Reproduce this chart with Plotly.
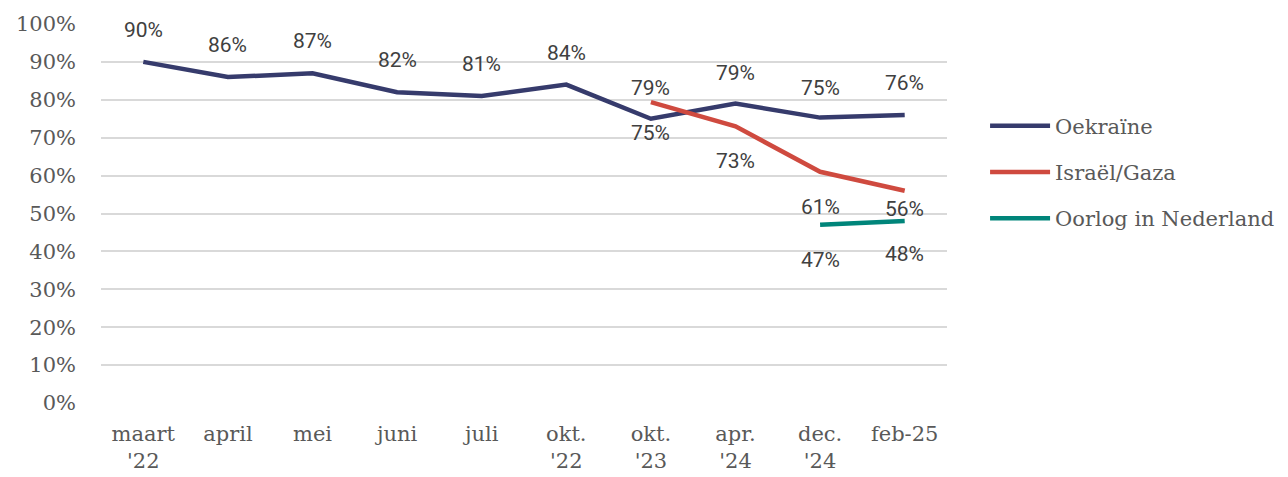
import plotly.graph_objects as go

# categories and series
months = ["maart<br>'22", "april", "mei", "juni", "juli", "okt.<br>'22",
          "okt.<br>'23", "apr.<br>'24", "dec.<br>'24", "feb-25"]
oekraine = [90, 86, 87, 82, 81, 84, 75, 79, 75.3, 76]
israel = [None, None, None, None, None, None, 79.4, 73, 61, 56]
oorlog = [None, None, None, None, None, None, None, None, 47, 48]

serif = "DejaVu Serif"
grey = "#595959"
series = [
    ("Oekraïne", oekraine, "#363b6c", [32, 32, 32, 32, 32, 32, -14, 31, 30, 32]),
    ("Israël/Gaza", israel, "#cf4a3f", [0] * 6 + [14, -35, -35, -18]),
    ("Oorlog in Nederland", oorlog, "#00857a", [0] * 8 + [-35, -33]),
]

fig = go.Figure()
annotations = []
for name, vals, color, shifts in series:
    fig.add_trace(go.Scatter(
        x=months, y=vals, name=name, mode="lines", legendgroup=name,
        line=dict(color=color, width=4.5),
    ))
    # data labels, placed above/below the points like the original
    for m, v, s in zip(months, vals, shifts):
        if v is None:
            continue
        annotations.append(dict(
            x=m, y=v, text=f"{round(v)}%", showarrow=False, yshift=s,
            font=dict(family="Roboto", size=21, color="#404040"),
        ))

# page body has an 8px margin, so margins are offset by that
fig.update_layout(
    width=1288, height=477,
    margin=dict(l=93, r=349, t=16, b=82),
    paper_bgcolor="white", plot_bgcolor="white",
    font=dict(family=serif, size=21, color=grey),
    showlegend=True,
    annotations=annotations,
    legend=dict(x=1.045, y=0.785, xanchor="left", yanchor="top",
                font=dict(family=serif, size=21, color=grey),
                tracegroupgap=16, itemwidth=60),
    xaxis=dict(type="category", range=[-0.5, len(months) - 0.5],
               showgrid=False, showline=False, zeroline=False,
               ticks="", tickfont=dict(family=serif, size=21, color=grey),
               ticklabelstandoff=16),
    yaxis=dict(range=[0, 100], dtick=10, ticksuffix="%", showgrid=True,
               gridcolor="#d9d9d9", gridwidth=1.5, zeroline=False,
               tickfont=dict(family=serif, size=21, color=grey), ticks="",
               ticklabelstandoff=24, automargin=False),
)

fig.write_html("out.html")
